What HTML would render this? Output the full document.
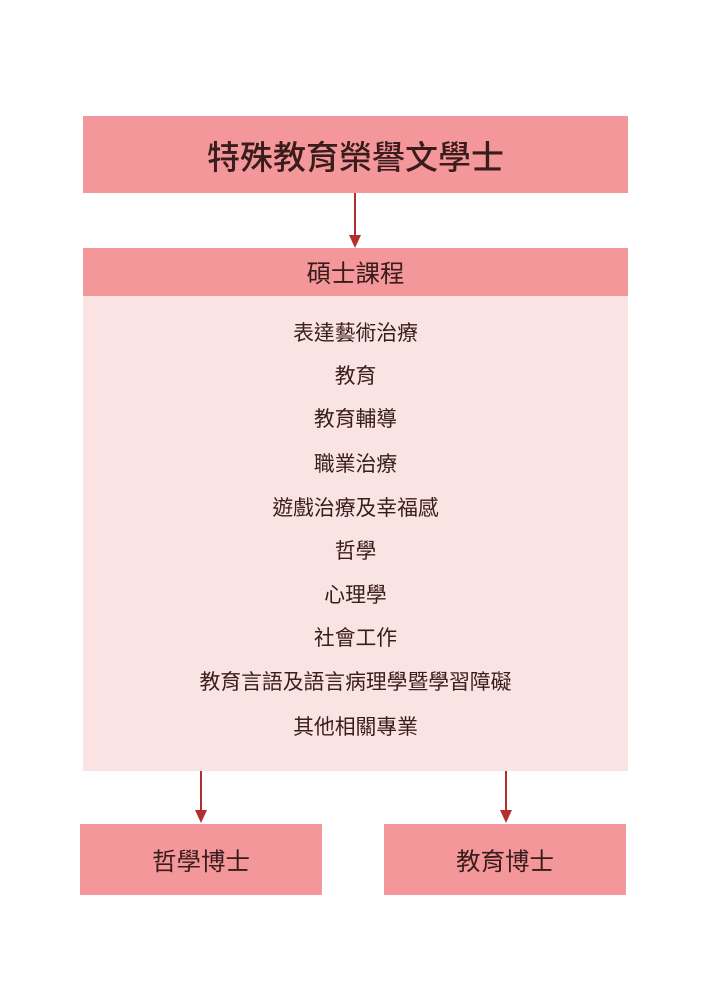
<!DOCTYPE html>
<html><head><meta charset="utf-8"><style>
body{margin:0;width:709px;height:1004px;background:#fff;position:relative;font-family:"Liberation Sans","Noto Sans CJK TC",sans-serif;color:#3b1c1c;overflow:hidden}
.b{position:absolute;background:#f4979a;display:flex;align-items:center;justify-content:center}
.t{position:absolute;left:83px;width:545px;text-align:center;font-size:20.8px;line-height:22px}
.l{position:absolute;width:2px;background:#b03030}
.a{position:absolute;width:0;height:0;border-left:6px solid transparent;border-right:6px solid transparent;border-top:13px solid #b03030}
</style></head><body>
<div class="b" style="left:83px;top:116px;width:545px;height:77px;font-size:33px;font-weight:500">特殊教育榮譽文學士</div>
<div class="l" style="left:354px;top:193px;height:43px"></div><div class="a" style="left:349px;top:235px"></div>
<div class="b" style="left:83px;top:248px;width:545px;height:48px;font-size:24.5px">碩士課程</div>
<div style="position:absolute;left:83px;top:296px;width:545px;height:475px;background:#f9e3e3"></div>
<div class="t" style="top:323px">表達藝術治療</div>
<div class="t" style="top:366px">教育</div>
<div class="t" style="top:409px">教育輔導</div>
<div class="t" style="top:454px">職業治療</div>
<div class="t" style="top:498px">遊戲治療及幸福感</div>
<div class="t" style="top:541px">哲學</div>
<div class="t" style="top:585px">心理學</div>
<div class="t" style="top:628px">社會工作</div>
<div class="t" style="top:672px">教育言語及語言病理學暨學習障礙</div>
<div class="t" style="top:717px">其他相關專業</div>
<div class="l" style="left:200px;top:771px;height:40px"></div><div class="a" style="left:195px;top:810px"></div>
<div class="l" style="left:505px;top:771px;height:40px"></div><div class="a" style="left:500px;top:810px"></div>
<div class="b" style="left:80px;top:824px;width:242px;height:71px;font-size:24.5px;padding-top:2px;box-sizing:border-box">哲學博士</div>
<div class="b" style="left:384px;top:824px;width:242px;height:71px;font-size:24.5px;padding-top:2px;box-sizing:border-box">教育博士</div>
</body></html>
